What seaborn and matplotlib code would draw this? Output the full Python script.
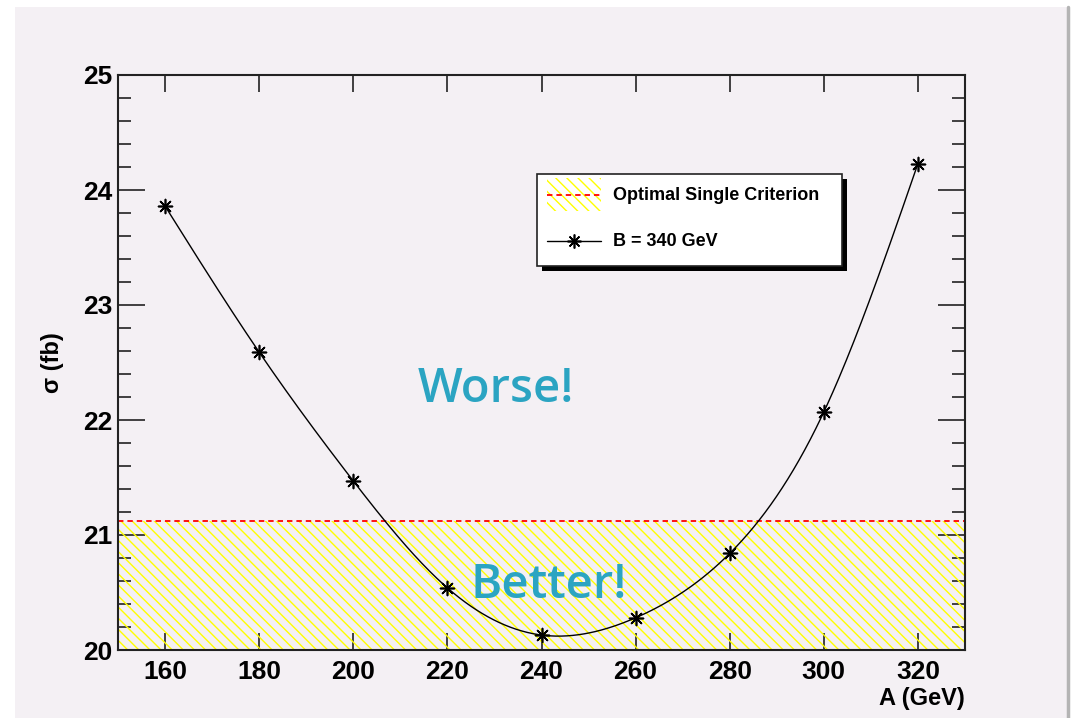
import numpy as np
import matplotlib
matplotlib.use("Agg")
import matplotlib.pyplot as plt
from matplotlib.patches import Rectangle
from matplotlib.lines import Line2D
from matplotlib.ticker import MultipleLocator
import seaborn as sns

# ---- data -------------------------------------------------------------
mass_a = [160, 180, 200, 220, 240, 260, 280, 300, 320]          # A (GeV)
sigma = [23.86, 22.59, 21.47, 20.54, 20.13, 20.28, 20.84, 22.07, 24.23]  # sigma (fb)
single_criterion = 21.12                                         # optimal single criterion (fb)
x_range = [150, 330]
y_range = [20, 25]
series_label = "B = 340 GeV"
band_label = "Optimal Single Criterion"

sns.set_theme(style="white")
plt.rcParams["font.family"] = ["Liberation Sans", "DejaVu Sans"]
plt.rcParams["text.color"] = "black"
plt.rcParams["xtick.labelcolor"] = "black"
plt.rcParams["ytick.labelcolor"] = "black"
plt.rcParams["axes.labelcolor"] = "black"
plt.rcParams["hatch.color"] = "#ffff00"
plt.rcParams["hatch.linewidth"] = 1.0

HATCH = "\\\\\\"

W, H = 1076, 718
fig = plt.figure(figsize=(W / 100, H / 100), dpi=100, facecolor="white")


def fx(px):
    return px / W


def fy(py):
    return 1 - py / H


# canvas panel
fig.patches.append(Rectangle((fx(15), 0), fx(1068) - fx(15), fy(7), transform=fig.transFigure,
                             facecolor="#f4f0f4", edgecolor="none", zorder=-5))
fig.lines.append(Line2D([fx(1068), fx(1068)], [0, fy(7)], transform=fig.transFigure,
                        color="#b4b4b4", lw=2.5, zorder=-4))

ax = fig.add_axes([fx(118), fy(650), fx(965) - fx(118), fy(75) - fy(650)])
ax.set_facecolor("none")


def natural_spline(x, y, xs):
    x = np.asarray(x, float)
    y = np.asarray(y, float)
    n = len(x)
    h = np.diff(x)
    A = np.zeros((n, n))
    r = np.zeros(n)
    A[0, 0] = A[-1, -1] = 1
    for i in range(1, n - 1):
        A[i, i - 1] = h[i - 1]
        A[i, i] = 2 * (h[i - 1] + h[i])
        A[i, i + 1] = h[i]
        r[i] = 3 * ((y[i + 1] - y[i]) / h[i] - (y[i] - y[i - 1]) / h[i - 1])
    c = np.linalg.solve(A, r)
    b = (y[1:] - y[:-1]) / h - h * (2 * c[:-1] + c[1:]) / 3
    d = (c[1:] - c[:-1]) / (3 * h)
    idx = np.clip(np.searchsorted(x, xs) - 1, 0, n - 2)
    dx = xs - x[idx]
    return y[idx] + b[idx] * dx + c[idx] * dx ** 2 + d[idx] * dx ** 3


# hatched "better" band and its boundary
ax.axhspan(y_range[0], single_criterion, facecolor="none", edgecolor="#ffff00",
           hatch=HATCH, linewidth=0, zorder=1)
ax.axhline(single_criterion, color="#ff0000", lw=1.3, ls=(0, (3, 2.2)), zorder=2)

# smooth curve through the points
xs = np.linspace(mass_a[0], mass_a[-1], 400)
sns.lineplot(x=xs, y=natural_spline(mass_a, sigma, xs), color="black", lw=1.0, ax=ax, zorder=3)
sns.scatterplot(x=mass_a, y=sigma, marker=(8, 2, 0), s=100, color="black",
                edgecolor="black", linewidth=1.2, ax=ax, zorder=4)

ax.set_xlim(*x_range)
ax.set_ylim(*y_range)
ax.xaxis.set_major_locator(MultipleLocator(20))
ax.yaxis.set_major_locator(MultipleLocator(1))
ax.yaxis.set_minor_locator(MultipleLocator(0.2))
ax.tick_params(axis="x", which="major", direction="in", length=12.2, width=1.2,
               top=True, bottom=True, color="#222222", labelsize=19, pad=7)
ax.tick_params(axis="y", which="major", direction="in", length=19.4, width=1.2,
               left=True, right=True, color="#222222", labelsize=19, pad=4)
ax.tick_params(axis="y", which="minor", direction="in", length=9.4, width=1.2,
               left=True, right=True, color="#222222")
for lab in ax.get_xticklabels() + ax.get_yticklabels():
    lab.set_fontweight("bold")
for sp in ax.spines.values():
    sp.set_color("#222222")
    sp.set_linewidth(1.5)

ax.set_xlabel("A (GeV)", fontsize=17, fontweight="bold", loc="right", labelpad=2)
ax.set_ylabel("σ (fb)", fontsize=17, fontweight="bold", labelpad=14)

# annotations
ax.text(0.354, 0.431, "Worse!", transform=ax.transAxes, fontsize=34, fontweight="semibold",
        family=["Open Sans", "DejaVu Sans"], color="#2ba4c2", ha="left", va="baseline")
ax.text(0.4156, 0.0904, "Better!", transform=ax.transAxes, fontsize=34, fontweight="semibold",
        family=["Open Sans", "DejaVu Sans"], color="#2ba4c2", ha="left", va="baseline")

# legend box with drop shadow
lx0, ly0, lx1, ly1 = 537, 174, 842, 266
sh = 5
fig.patches.append(Rectangle((fx(lx0 + sh), fy(ly1 + sh)), fx(lx1 - lx0), fy(ly0) - fy(ly1),
                             transform=fig.transFigure, facecolor="black", edgecolor="none", zorder=5))
fig.patches.append(Rectangle((fx(lx0), fy(ly1)), fx(lx1 - lx0), fy(ly0) - fy(ly1),
                             transform=fig.transFigure, facecolor="white", edgecolor="#222222",
                             lw=1.2, zorder=6))
# band entry
fig.patches.append(Rectangle((fx(547), fy(211)), fx(601 - 547), fy(178) - fy(211),
                             transform=fig.transFigure, facecolor="none", edgecolor="#ffff00",
                             hatch=HATCH, lw=0, zorder=7))
fig.lines.append(Line2D([fx(547), fx(601)], [fy(195), fy(195)], transform=fig.transFigure,
                        color="#ff0000", lw=1.3, ls=(0, (3, 2.2)), zorder=8))
fig.text(fx(613), fy(195), band_label, fontsize=13, fontweight="bold",
         ha="left", va="center", zorder=8)
# series entry
fig.lines.append(Line2D([fx(547), fx(601)], [fy(241), fy(241)], transform=fig.transFigure,
                        color="black", lw=1.0, zorder=8))
fig.lines.append(Line2D([fx(574)], [fy(241)], transform=fig.transFigure, color="black",
                        marker=(8, 2, 0), markersize=10, mew=1.2, ls="none", zorder=8))
fig.text(fx(613), fy(241), series_label, fontsize=13, fontweight="bold",
         ha="left", va="center", zorder=8)

fig.savefig("out.png", dpi=100, facecolor="white")
